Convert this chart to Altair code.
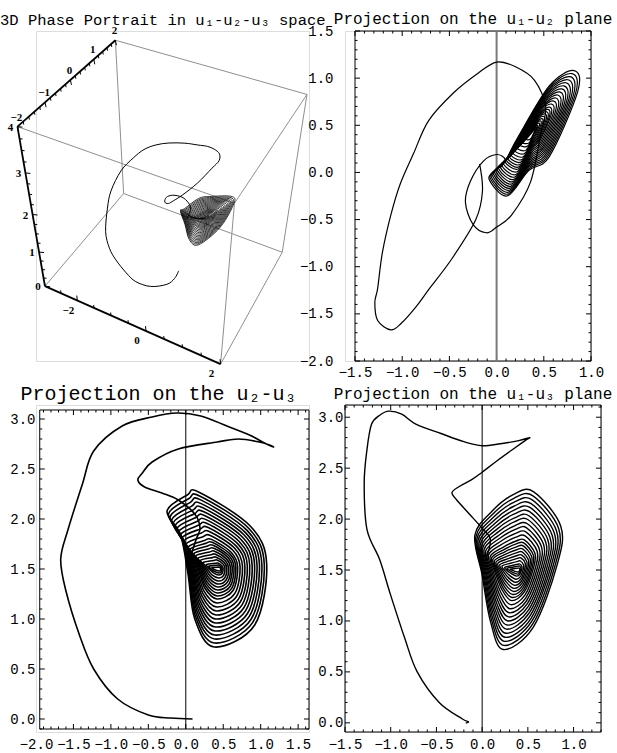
import math
import itertools
import altair as alt
import numpy as np
import pandas as pd

# ------------------------------------------------------------------
# Trajectory (u1, u2, u3): transient part, in time order
# ------------------------------------------------------------------
path_u1 = [-0.18, -0.15, -0.22, -0.47, -0.71, -0.85, -1.01, -1.12, -1.26, -1.29,
           -1.26, -1.21, -1.12, -1.02, -0.88, -0.72, -0.45, -0.20, 0.00, 0.20,
           0.40, 0.52, 0.47, 0.36, 0.16, 0.00, -0.11, -0.25, -0.33, -0.28,
           -0.14, 0.00, 0.09, 0.04]
path_u2 = [0.09, -0.20, -0.50, -0.91, -1.23, -1.42, -1.60, -1.67, -1.57, -1.38,
           -1.23, -0.85, -0.45, -0.12, 0.20, 0.55, 0.85, 1.05, 1.17, 1.12,
           0.98, 0.70, 0.42, -0.10, -0.45, -0.58, -0.64, -0.55, -0.32, -0.10,
           0.12, 0.19, 0.14, 0.05]
path_u3 = [0.00, 0.01, 0.04, 0.20, 0.50, 0.84, 1.28, 1.60, 1.90, 2.35,
           2.68, 2.93, 3.02, 3.06, 3.03, 2.93, 2.84, 2.76, 2.72, 2.74,
           2.77, 2.80, 2.77, 2.70, 2.57, 2.46, 2.39, 2.32, 2.26, 2.19,
           2.05, 1.91, 1.80, 1.60]

# Spiral part: shape of the outer loop (time order) around the equilibrium
loop_u1 = [-0.08, 0.00, 0.09, 0.23, 0.56, 0.82, 0.86, 0.56, 0.34, 0.11]
loop_u2 = [-0.07, 0.03, 0.12, 0.38, 0.92, 1.08, 0.86, 0.17, 0.02, -0.25]
loop_u3 = [1.84, 1.45, 1.00, 0.72, 0.94, 1.55, 1.93, 2.27, 2.24, 2.08]
# how quickly each part of the loop closes in (u1, u2): the left flank lingers
loop_contraction = [0.45, 0.45, 0.55, 0.8, 1.0, 1.0, 1.0, 1.0, 0.8, 0.55]
equilibrium = (0.40, 0.45, 1.50)
# lowest u3 reached on each successive loop of the spiral
loop_bottom_u3 = [0.72, 0.76, 0.80, 0.84, 0.88, 0.92, 0.96, 1.00, 1.04, 1.08,
                  1.12, 1.16, 1.20, 1.23, 1.26, 1.29, 1.32, 1.35, 1.38, 1.41,
                  1.44, 1.46, 1.48]

# ------------------------------------------------------------------
rows = []
for i, (a, b, c) in enumerate(zip(path_u1, path_u2, path_u3)):
    rows.append(dict(seg=0, idx=i, u1=a, u2=b, u3=c))
e1, e2, e3 = equilibrium
amp0 = e3 - loop_bottom_u3[0]
for k, bot in enumerate(loop_bottom_u3):
    s = (e3 - bot) / amp0
    for j in range(len(loop_u1)):
        sj = s ** loop_contraction[j]
        rows.append(dict(seg=k + 1, idx=j,
                         u1=e1 + sj * (loop_u1[j] - e1),
                         u2=e2 + sj * (loop_u2[j] - e2),
                         u3=e3 + s * (loop_u3[j] - e3)))
traj = pd.DataFrame(rows)

# ------------------------------------------------------------------
# 3D view: perspective projection of the plot box
# ------------------------------------------------------------------
U_LO = np.array([-3.0, -2.0, 0.0])
U_HI = np.array([2.0, 2.0, 4.0])
BOX = np.array([1.0, 0.8, 1.0])
AZ, EL, DIST = math.radians(-62.0), math.radians(42.0), 3.38
VIEW = np.array([math.cos(EL) * math.cos(AZ), math.cos(EL) * math.sin(AZ), math.sin(EL)])
RIGHT = np.array([-math.sin(AZ), math.cos(AZ), 0.0])
UP = np.array([-math.sin(EL) * math.cos(AZ), -math.sin(EL) * math.sin(AZ), math.cos(EL)])


def project(u1, u2, u3):
    pts = np.stack([np.asarray(u1, float), np.asarray(u2, float), np.asarray(u3, float)], -1)
    p = ((pts - U_LO) / (U_HI - U_LO) - 0.5) * BOX
    depth = DIST - p @ VIEW
    return (p @ RIGHT) / depth, (p @ UP) / depth


px3, py3 = project(traj.u1, traj.u2, traj.u3)
traj["x3"] = px3
traj["y3"] = py3

SX, SY = 700.0, 715.0          # pixels per projected unit
W3, H3 = 273, 330
OX, OY = 130.4, 166.3          # projection origin inside the panel, px
x3_dom = [-OX / SX, (W3 - OX) / SX]
y3_dom = [(OY - H3) / SY, OY / SY]

corners = list(itertools.product([0, 1], repeat=3))
edge_rows, axis_rows = [], []
for c1, c2 in itertools.combinations(corners, 2):
    diff = [i for i in range(3) if c1[i] != c2[i]]
    if len(diff) != 1:
        continue
    a = [U_HI[i] if c1[i] else U_LO[i] for i in range(3)]
    b = [U_HI[i] if c2[i] else U_LO[i] for i in range(3)]
    xa, ya = project(*a)
    xb, yb = project(*b)
    d = diff[0]
    is_axis = ((d == 1 and c1[0] == 0 and c1[2] == 1) or
               (d == 2 and c1[0] == 0 and c1[1] == 0) or
               (d == 0 and c1[1] == 0 and c1[2] == 0))
    (axis_rows if is_axis else edge_rows).append(dict(x=xa, y=ya, x2=xb, y2=yb))
edges_df = pd.DataFrame(edge_rows)
axes3_df = pd.DataFrame(axis_rows)


def axis3d(values, fixed, which, tick_px, label_px, labels):
    ticks, texts = [], []
    for v, major in values:
        u = list(fixed)
        u[which] = v
        x, y = project(*u)
        L = 1.0 if major else 0.6
        ticks.append(dict(x=x, y=y, x2=x + L * tick_px[0] / SX, y2=y - L * tick_px[1] / SY))
        if major and v in labels:
            texts.append(dict(x=x + label_px[0] / SX, y=y - label_px[1] / SY, t=labels[v]))
    return ticks, texts


def mk(vals, majors, step):
    out = []
    lo, hi = vals
    n = int(round((hi - lo) / step))
    for i in range(n + 1):
        v = round(lo + i * step, 3)
        out.append((v, any(abs(v - m) < 1e-6 for m in majors)))
    return out


t_a, l_a = axis3d(mk((-2, 2), [-2, -1, 0, 1, 2], 0.2), [-3.0, 0, 4.0], 1, (1.0, 5.0), (-1, -9),
                  {-2: "\u22122", -1: "\u22121", 0: "0", 1: "1", 2: "2"})
t_b, l_b = axis3d(mk((0, 4), [0, 1, 2, 3, 4], 0.25), [-3.0, -2.0, 0], 2, (5.0, 0.5), (-7, 1),
                  {0: "0", 1: "1", 2: "2", 3: "3", 4: "4"})
t_c, l_c = axis3d(mk((-3, 2), [-2, 0, 2], 0.5), [0, -2.0, 0.0], 0, (-0.5, -5.0), (-9, 10),
                  {-2: "\u22122", 0: "0", 2: "2"})
ticks3_df = pd.DataFrame(t_a + t_b + t_c)
labels3_df = pd.DataFrame(l_a + l_b + l_c)

xs3 = alt.Scale(domain=x3_dom, nice=False, zero=False)
ys3 = alt.Scale(domain=y3_dom, nice=False, zero=False)


def rules(df, xs, ys, color, width, ax=None, ay=None):
    return alt.Chart(df).mark_rule(color=color, strokeWidth=width).encode(
        x=alt.X("x:Q", scale=xs, axis=ax), x2="x2:Q",
        y=alt.Y("y:Q", scale=ys, axis=ay), y2="y2:Q")


MONO = "Liberation Mono"

box_gray = rules(edges_df, xs3, ys3, "#8f8f8f", 1.0)
box_axes = rules(axes3_df, xs3, ys3, "black", 1.8)
box_ticks = rules(ticks3_df, xs3, ys3, "black", 1.0)
box_labels = alt.Chart(labels3_df).mark_text(
    font="Liberation Serif", fontSize=11, fontWeight="bold", color="black").encode(
    x=alt.X("x:Q", scale=xs3, axis=None), y=alt.Y("y:Q", scale=ys3, axis=None), text="t:N")
path3 = alt.Chart(traj[traj.seg == 0]).mark_line(
    color="black", strokeWidth=1.0, interpolate="cardinal").encode(
    x=alt.X("x3:Q", scale=xs3, axis=None), y=alt.Y("y3:Q", scale=ys3, axis=None), order="idx:Q")
loops3 = alt.Chart(traj[traj.seg > 0]).mark_line(
    color="black", strokeWidth=0.8, interpolate="cardinal-closed").encode(
    x=alt.X("x3:Q", scale=xs3, axis=None), y=alt.Y("y3:Q", scale=ys3, axis=None),
    detail="seg:N", order="idx:Q")

panel3d = alt.layer(box_gray, box_axes, box_ticks, box_labels, path3, loops3).properties(
    width=W3, height=H3,
    title=alt.TitleParams("3D Phase Portrait in u\u2081-u\u2082-u\u2083 space", anchor="start",
                          frame="group", dx=-36, offset=-3, font=MONO, fontSize=15.5,
                          fontWeight="normal", color="black"))


# ------------------------------------------------------------------
# 2D projections
# ------------------------------------------------------------------
def frame_ticks(fx, fy, xdom, ydom, W, H, xmaj, ymaj, step=0.1, lmaj=5.0, lmin=2.5):
    dxp = (xdom[1] - xdom[0]) / W
    dyp = (ydom[1] - ydom[0]) / H
    out = []

    def grid(lo, hi):
        start = math.ceil(lo / step - 1e-9)
        stop = math.floor(hi / step + 1e-9)
        return [round(i * step, 3) for i in range(start, stop + 1)]

    for v in grid(fx[0], fx[1]):
        L = lmaj if any(abs(v - m) < 1e-6 for m in xmaj) else lmin
        out.append(dict(x=v, x2=v, y=fy[0], y2=fy[0] + L * dyp))
        out.append(dict(x=v, x2=v, y=fy[1], y2=fy[1] - L * dyp))
    for v in grid(fy[0], fy[1]):
        L = lmaj if any(abs(v - m) < 1e-6 for m in ymaj) else lmin
        out.append(dict(x=fx[0], x2=fx[0] + L * dxp, y=v, y2=v))
        out.append(dict(x=fx[1], x2=fx[1] - L * dxp, y=v, y2=v))
    return pd.DataFrame(out)


def panel2d(xcol, ycol, xdom, ydom, fx, fy, W, H, xt, yt, title, tdx, toff, tsize,
            zero_color, zero_w, curve_w, xpad, ypad):
    xs = alt.Scale(domain=xdom, nice=False, zero=False)
    ys = alt.Scale(domain=ydom, nice=False, zero=False)
    common = dict(title=None, grid=False, ticks=False, domain=False, format=".1f",
                  labelFont=MONO, labelFontSize=14, labelColor="black",
                  labelOverlap=False, labelFlush=False)
    ax = alt.Axis(values=xt, labelPadding=xpad, **common)
    ay = alt.Axis(values=yt, labelPadding=ypad, **common)
    frame_df = pd.DataFrame([dict(x=fx[0], x2=fx[1], y=fy[0], y2=fy[1])])
    frame = alt.Chart(frame_df).mark_rect(fill="white", fillOpacity=0, stroke="black",
                                          strokeWidth=1).encode(
        x=alt.X("x:Q", scale=xs, axis=ax), x2="x2:Q",
        y=alt.Y("y:Q", scale=ys, axis=ay), y2="y2:Q")
    tk = rules(frame_ticks(fx, fy, xdom, ydom, W, H, xt, yt), xs, ys, "black", 1.0, ax, ay)
    zero = rules(pd.DataFrame([dict(x=0.0, x2=0.0, y=fy[0], y2=fy[1])]), xs, ys,
                 zero_color, zero_w, ax, ay)
    path = alt.Chart(traj[traj.seg == 0]).mark_line(
        color="black", strokeWidth=curve_w, interpolate="cardinal").encode(
        x=alt.X(f"{xcol}:Q", scale=xs, axis=ax), y=alt.Y(f"{ycol}:Q", scale=ys, axis=ay),
        order="idx:Q")
    loops = alt.Chart(traj[traj.seg > 0]).mark_line(
        color="black", strokeWidth=curve_w, interpolate="cardinal-closed").encode(
        x=alt.X(f"{xcol}:Q", scale=xs, axis=ax), y=alt.Y(f"{ycol}:Q", scale=ys, axis=ay),
        detail="seg:N", order="idx:Q")
    return alt.layer(frame, tk, zero, path, loops).properties(
        width=W, height=H,
        title=alt.TitleParams(title, anchor="middle", frame="group", dx=tdx, offset=toff,
                              font=MONO, fontSize=tsize, fontWeight="normal",
                              color="black"))


ticks_a = [-1.5, -1.0, -0.5, 0.0, 0.5, 1.0]
ticks_b = [-2.0, -1.5, -1.0, -0.5, 0.0, 0.5, 1.0, 1.5]
ticks_u3 = [0.0, 0.5, 1.0, 1.5, 2.0, 2.5, 3.0]

# u1-u2: plot area starts 10 px left of its frame (both columns share one width)
p12 = panel2d("u1", "u2", [-1.5 - 10 * 2.5 / 236, 1.0], [-2.0, 1.5], [-1.5, 1.0], [-2.0, 1.5],
              246, 330, ticks_a, ticks_b, "Projection on the u\u2081-u\u2082 plane", 5, -3, 16,
              "#7a7a7a", 2.0, 1.2, 4, 12)
p23 = panel2d("u2", "u3", [-2.0, 1.645], [-0.13, 3.14], [-1.95, 1.645], [-0.10, 3.09], 273, 327,
              ticks_b, ticks_u3, "Projection on the u\u2082-u\u2083", -14, 1, 20,
              "black", 1.0, 1.6, 5, 1)
p13 = panel2d("u1", "u3", [-1.5, 1.3], [-0.09, 3.12], [-1.5, 1.3], [-0.09, 3.12], 256, 327,
              ticks_a, ticks_u3, "Projection on the u\u2081-u\u2083 plane", 0, 3, 16,
              "black", 1.0, 1.4, 5, 2)

chart = alt.concat(panel3d, p12, p23, p13, columns=2,
                   spacing={"row": 44, "column": 36}, bounds="flush", align="none").properties(
    padding={"left": -1, "top": 10, "right": 0, "bottom": 0}
).configure_view(stroke=None).configure(background="white")

chart.save("out.html", embed_options={"renderer": "svg", "actions": False})
